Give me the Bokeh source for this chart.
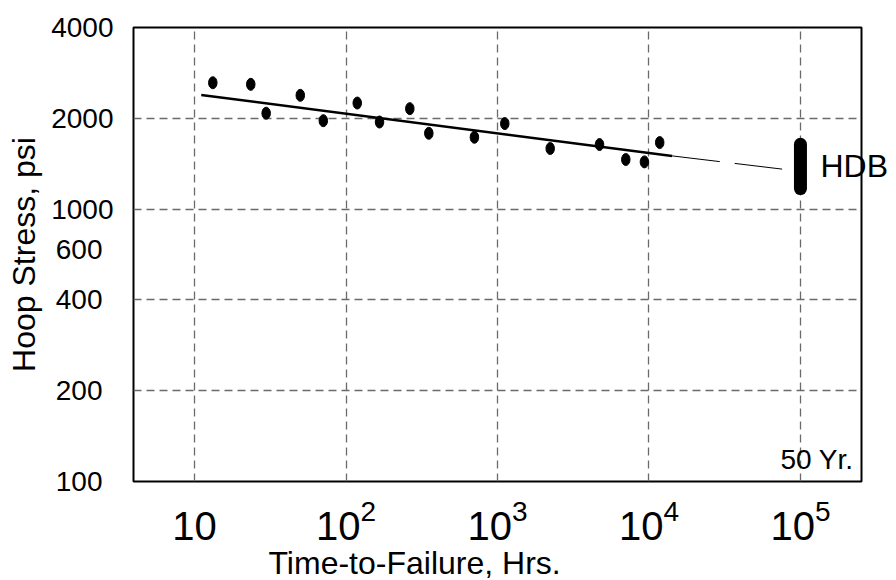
import numpy as np
from bokeh.plotting import figure
from bokeh.models import (Range1d, FixedTicker, Label, ColumnDataSource,
                          LogTickFormatter, LinearAxis, LogAxis, Title)
from bokeh.embed import file_html
from bokeh.resources import INLINE

# ---- data ----
hours = [13.2, 23.5, 29.7, 49.9, 70.8, 118.6, 166.4, 263.7, 352, 704,
         1117, 2228, 4715, 7030, 9333, 11770]
stress = [2624, 2592, 2079, 2383, 1964, 2247, 1944, 2153, 1784, 1730,
          1921, 1588, 1637, 1460, 1434, 1662]

fit_hours = [11.07, 14220]
fit_stress = [2389, 1501]
extrap_hours = [14220, 75700]
extrap_stress = [1501, 1357]

hdb_hours = 1e5
hdb_stress = [1170, 1640]

x_ticks = [10, 100, 1000, 10000, 100000]

y_tick_labels = ["100", "200", "400", "600", "1000", "2000", "4000"]
y_grid_values = [200, 400, 1000, 2000]
# the chart's stress axis: labelled values placed at equal steps
y_nodes = [100, 200, 400, 1000, 2000, 4000]


def ypos(v):
    return np.interp(np.log10(v), np.log10(y_nodes), np.arange(len(y_nodes)))


y_label_pos = [0, 1, 2, 2.55, 3, 4, 5]

FONT = "Liberation Sans"

p = figure(width=896, height=580, x_axis_type="log",
           x_range=Range1d(10 ** 0.597, 10 ** 5.403), y_range=Range1d(0, 5),
           output_backend="svg", toolbar_location=None,
           min_border_left=133, min_border_right=35, min_border_top=27,
           min_border_bottom=98)

p.outline_line_color = "black"
p.outline_line_width = 2
p.background_fill_color = "white"
p.border_fill_color = "white"


def style_axis(ax, size):
    ax.major_label_text_font = FONT
    ax.major_label_text_font_size = size
    ax.major_label_text_color = "black"
    ax.major_tick_line_color = None
    ax.minor_tick_line_color = None
    ax.major_tick_out = 0
    ax.major_tick_in = 0
    ax.axis_line_color = None


# ---- x axis: powers of ten with exponents ----
xa = p.xaxis[0]
xa.ticker = FixedTicker(ticks=x_ticks[1:])
xa.formatter = LogTickFormatter()
style_axis(xa, "40px")
xa.major_label_standoff = 17

# plain "10" label, aligned with the bases of the other labels
xa10 = LogAxis(ticker=FixedTicker(ticks=x_ticks[:1]),
               major_label_overrides={x_ticks[0]: "10"})
style_axis(xa10, "40px")
xa10.major_label_standoff = -31
p.add_layout(xa10, "below")

p.add_layout(Title(text="Time-to-Failure, Hrs.", align="left", offset=135,
                   text_font=FONT, text_font_size="32px",
                   text_font_style="normal", text_color="black", standoff=0),
             "below")

p.xgrid.ticker = FixedTicker(ticks=x_ticks)
p.ygrid.ticker = FixedTicker(ticks=[float(ypos(v)) for v in y_grid_values])
for g in (p.xgrid[0], p.ygrid[0]):
    g.grid_line_color = "#6a6a6a"
    g.grid_line_dash = "8 5"
    g.grid_line_width = 1.3

# ---- y axis (labels roughly centred in a column, as in the reference) ----
labels_by_pos = {pos: lab for pos, lab in zip(y_label_pos, y_tick_labels)}
wide = [pos for pos, lab in labels_by_pos.items() if len(lab) == 4]
narrow = [pos for pos, lab in labels_by_pos.items() if len(lab) < 4]

ya = p.yaxis[0]
ya.ticker = FixedTicker(ticks=wide)
ya.major_label_overrides = {pos: labels_by_pos[pos] for pos in wide}
style_axis(ya, "28px")
ya.major_label_standoff = 20

yb = LinearAxis(ticker=FixedTicker(ticks=narrow),
                major_label_overrides={pos: labels_by_pos[pos] for pos in narrow})
style_axis(yb, "28px")
yb.major_label_standoff = -54
yb.axis_label = "Hoop Stress, psi"
yb.axis_label_text_font = FONT
yb.axis_label_text_font_size = "32px"
yb.axis_label_text_font_style = "normal"
yb.axis_label_text_color = "black"
yb.axis_label_standoff = 11
p.add_layout(yb, "left")

# ---- data points ----
src = ColumnDataSource(dict(x=hours, y=ypos(stress)))
p.ellipse(x="x", y="y", width=8.5, height=12, width_units="screen",
          height_units="screen", source=src, fill_color="black",
          line_color="black")

# regression line and its extrapolation
p.line(fit_hours, ypos(fit_stress), line_color="black", line_width=2.5)
p.line(extrap_hours, ypos(extrap_stress), line_color="black", line_width=1,
       line_dash="48 15")

# HDB band at 50 years
hy = ypos(hdb_stress)
p.segment(x0=[hdb_hours], y0=[hy[0]], x1=[hdb_hours], y1=[hy[1]],
          line_color="black", line_width=13, line_cap="round")

# HDB text: right-side axis label at the band's level (overlaps the frame)
hdb_pos = float(np.mean(hy))
ra = LinearAxis(ticker=FixedTicker(ticks=[hdb_pos]),
                major_label_overrides={hdb_pos: "HDB"})
style_axis(ra, "32px")
ra.major_label_standoff = -41
p.add_layout(ra, "right")

p.add_layout(Label(x=hdb_hours, y=0.24, x_offset=-20, text="50 Yr.",
                   text_font=FONT, text_font_size="28px", text_color="black",
                   text_baseline="alphabetic", text_align="left"))

open("out.html", "w").write(file_html(p, INLINE))
